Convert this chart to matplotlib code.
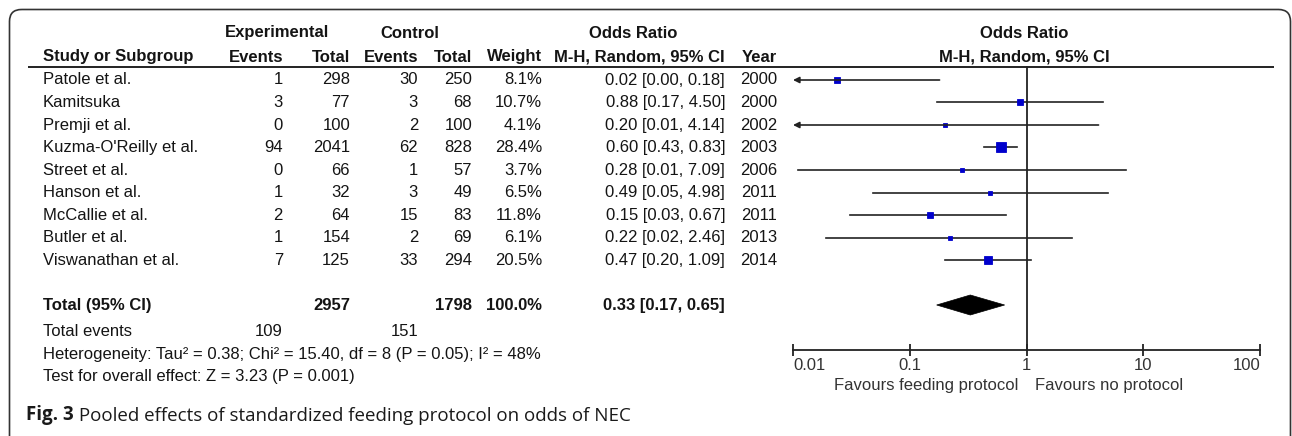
import numpy as np
import matplotlib
matplotlib.use("Agg")
import matplotlib.pyplot as plt
from matplotlib.patches import FancyBboxPatch, Polygon

studies = ["Patole et al.", "Kamitsuka", "Premji et al.", "Kuzma-O'Reilly et al.",
           "Street et al.", "Hanson et al.", "McCallie et al.", "Butler et al.",
           "Viswanathan et al."]
exp_events = [1, 3, 0, 94, 0, 1, 2, 1, 7]
exp_total = [298, 77, 100, 2041, 66, 32, 64, 154, 125]
ctrl_events = [30, 3, 2, 62, 1, 3, 15, 2, 33]
ctrl_total = [250, 68, 100, 828, 57, 49, 83, 69, 294]
weights = [8.1, 10.7, 4.1, 28.4, 3.7, 6.5, 11.8, 6.1, 20.5]
or_est = [0.024, 0.88, 0.20, 0.60, 0.28, 0.49, 0.15, 0.22, 0.47]
ci_lo = [0.001, 0.17, 0.009, 0.43, 0.011, 0.048, 0.031, 0.019, 0.20]
ci_hi = [0.18, 4.50, 4.14, 0.83, 7.09, 4.98, 0.67, 2.46, 1.09]
years = [2000, 2000, 2002, 2003, 2006, 2011, 2011, 2013, 2014]

pooled = [0.33, 0.17, 0.65]
total_weight = 100.0
heterogeneity = "Heterogeneity: Tau\u00b2 = 0.38; Chi\u00b2 = 15.40, df = 8 (P = 0.05); I\u00b2 = 48%"
overall = "Test for overall effect: Z = 3.23 (P = 0.001)"
tick_vals = [0.01, 0.1, 1, 10, 100]
tick_labels = ["0.01", "0.1", "1", "10", "100"]

FONT = "Liberation Sans"
FS = 12
TXT = "#141414"
plt.rcParams["font.family"] = [FONT, "DejaVu Sans"]

W, H = 1292, 436
fig = plt.figure(figsize=(W / 100, H / 100), dpi=100)
fig.patch.set_facecolor("white")

# overlay in pixel coordinates for the table
ax0 = fig.add_axes([0, 0, 1, 1])
ax0.set_xlim(0, W)
ax0.set_ylim(H, 0)
ax0.axis("off")

frame = FancyBboxPatch((9.5, 9.5), 1281, 520, boxstyle="round,pad=0,rounding_size=12",
                       fc="none", ec="#333333", lw=1.2)
ax0.add_patch(frame)

def t(x, y, s, ha="right", bold=False, size=FS, color=TXT):
    ax0.text(x, y, s, ha=ha, va="center", fontsize=size, color=color,
             fontweight="bold" if bold else "normal", family=[FONT, "DejaVu Sans"])

# column right edges
c_exp_ev, c_exp_tot, c_ctl_ev, c_ctl_tot, c_wt, c_ci, c_yr = 283, 350, 418, 472, 542, 725, 777

# headers
t(277, 33, "Experimental", ha="center", bold=True)
t(410, 33, "Control", ha="center", bold=True)
t(633, 33, "Odds Ratio", ha="center", bold=True)
t(1024, 33, "Odds Ratio", ha="center", bold=True)
t(43, 57, "Study or Subgroup", ha="left", bold=True)
t(c_exp_ev, 57, "Events", bold=True)
t(c_exp_tot, 57, "Total", bold=True)
t(c_ctl_ev, 57, "Events", bold=True)
t(c_ctl_tot, 57, "Total", bold=True)
t(c_wt, 57, "Weight", bold=True)
t(c_ci, 57, "M-H, Random, 95% CI", bold=True)
t(c_yr, 57, "Year", bold=True)
t(1024, 57, "M-H, Random, 95% CI", ha="center", bold=True)
ax0.plot([28, 1274], [67, 67], color="#222222", lw=1.4, solid_capstyle="butt")

row_y = 80 + 22.5 * np.arange(len(studies))
for i, y in enumerate(row_y):
    t(43, y, studies[i], ha="left")
    t(c_exp_ev, y, str(exp_events[i]))
    t(c_exp_tot, y, str(exp_total[i]))
    t(c_ctl_ev, y, str(ctrl_events[i]))
    t(c_ctl_tot, y, str(ctrl_total[i]))
    t(c_wt, y, f"{weights[i]:.1f}%")
    t(c_ci, y, f"{or_est[i]:.2f} [{ci_lo[i]:.2f}, {ci_hi[i]:.2f}]")
    t(c_yr, y, str(years[i]))

y_tot = 305
t(43, y_tot, "Total (95% CI)", ha="left", bold=True)
t(c_exp_tot, y_tot, str(sum(exp_total)), bold=True)
t(c_ctl_tot, y_tot, str(sum(ctrl_total)), bold=True)
t(c_wt, y_tot, f"{total_weight:.1f}%", bold=True)
t(c_ci, y_tot, f"{pooled[0]:.2f} [{pooled[1]:.2f}, {pooled[2]:.2f}]", bold=True)
t(43, 331, "Total events", ha="left")
t(c_exp_ev, 331, str(sum(exp_events)))
t(c_ctl_ev, 331, str(sum(ctrl_events)))
t(43, 354, heterogeneity, ha="left")
t(43, 376, overall, ha="left")

t(1018, 385, "Favours feeding protocol", ha="right", color="#333333")
t(1035, 385, "Favours no protocol", ha="left", color="#333333")

cap = ax0.text(26, 415, "Fig. 3", ha="left", va="center", fontsize=13.5,
               fontweight="bold", family="Open Sans", color="#1a1a1a")
ax0.annotate(" Pooled effects of standardized feeding protocol on odds of NEC",
             xy=(1, 0), xycoords=cap, ha="left", va="bottom", fontsize=13.5,
             family="Open Sans", color="#1a1a1a")

# forest plot
ax1 = fig.add_axes([793 / W, 0, (1260 - 793) / W, 1])
ax1.patch.set_alpha(0)
ax1.set_xscale("log")
ax1.set_xlim(tick_vals[0], tick_vals[-1])
ax1.set_ylim(H, 0)
for s in ["top", "left", "right"]:
    ax1.spines[s].set_visible(False)
ax1.spines["bottom"].set_position(("data", 350))
ax1.spines["bottom"].set_linewidth(1.3)
ax1.spines["bottom"].set_color("#222222")
ax1.set_yticks([])
ax1.minorticks_off()
ax1.set_xticks(tick_vals)
ax1.set_xticklabels(tick_labels, family=[FONT, "DejaVu Sans"], fontsize=FS, color="#333333")
ax1.tick_params(axis="x", direction="inout", length=9, width=1.3, pad=1, color="#222222")
labs = ax1.get_xticklabels()
labs[0].set_ha("left")
labs[-1].set_ha("right")

ax1.plot([1, 1], [67, 350], color="#222222", lw=1.3)

xmin = tick_vals[0]
for i, y in enumerate(row_y):
    lo, hi = ci_lo[i], ci_hi[i]
    if lo < xmin:
        ax1.annotate("", xy=(xmin, y), xytext=(hi, y),
                     arrowprops=dict(arrowstyle="-|>", color="#222222", lw=1.2,
                                     mutation_scale=9, shrinkA=0, shrinkB=0))
    else:
        ax1.plot([lo, hi], [y, y], color="#222222", lw=1.2)
    side = 1.8 * np.sqrt(weights[i]) * 0.72
    ax1.plot(or_est[i], y, marker="s", ms=side, color="#0000cc", mec="#0000cc", mew=0.6)

diamond = Polygon([(pooled[1], y_tot), (pooled[0], y_tot - 10),
                   (pooled[2], y_tot), (pooled[0], y_tot + 10)],
                  closed=True, fc="black", ec="black", lw=0.5)
ax1.add_patch(diamond)

fig.savefig("out.png", dpi=100, facecolor="white")
